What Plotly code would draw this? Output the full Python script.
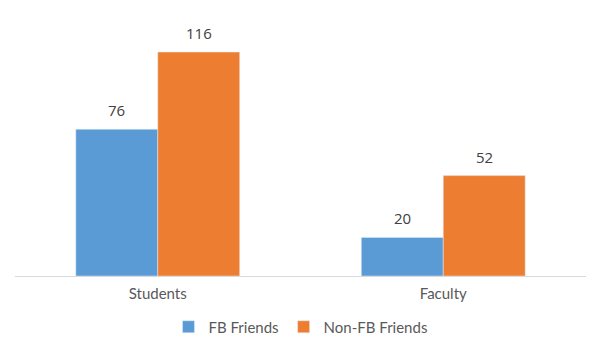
import plotly.graph_objects as go

categories = ["Students", "Faculty"]
fb_friends = [76, 20]
non_fb_friends = [116, 52]
series = [("FB Friends", fb_friends, "#5B9BD5", -41), ("Non-FB Friends", non_fb_friends, "#ED7D31", 41)]

fig = go.Figure()
for name, vals, color, shift in series:
    fig.add_trace(go.Bar(name=name, x=categories, y=vals, marker_color=color))
    for c, v in zip(categories, vals):
        fig.add_annotation(x=c, y=v, text=str(v), showarrow=False, xref="x", yref="y",
                           xshift=shift, yanchor="bottom", yshift=7,
                           font=dict(size=15, color="#404040", family="Open Sans"))

# page body has an 8px default margin, compensate
fig.update_layout(
    width=600, height=358,
    margin=dict(l=7, r=22, t=12, b=90, autoexpand=False),
    paper_bgcolor="white", plot_bgcolor="white",
    barmode="group", bargap=0.426, bargroupgap=0,
    font=dict(family="Lato", size=15, color="#595959"),
    showlegend=True,
    legend=dict(orientation="h", x=0.5, xanchor="center", yref="container", y=1 - 319 / 358,
                yanchor="middle", font=dict(size=15, color="#595959"), itemwidth=30),
    xaxis=dict(showline=True, linecolor="#D9D9D9", linewidth=1, ticks="", automargin=False,
               ticklabelstandoff=4, tickfont=dict(size=15, color="#595959")),
    yaxis=dict(visible=False, range=[0, 132.6], showgrid=False, automargin=False),
)
fig.write_html("out.html")
